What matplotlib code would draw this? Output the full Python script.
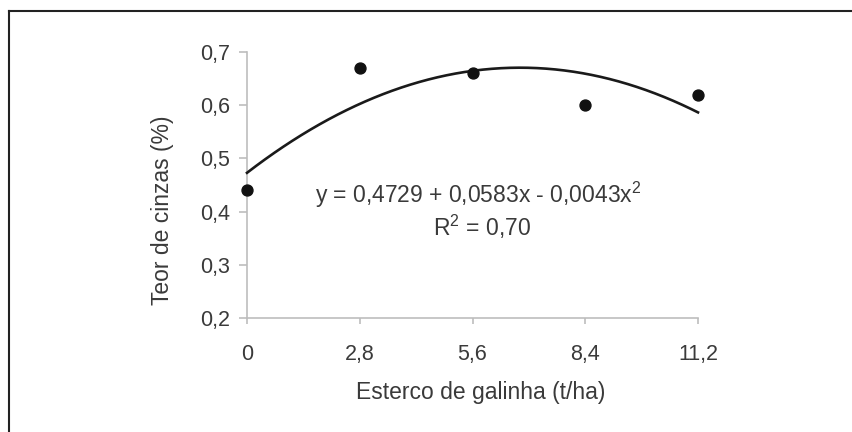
import numpy as np
import matplotlib
matplotlib.use("Agg")
from matplotlib import pyplot as plt
from matplotlib.lines import Line2D

plt.rcParams['font.family'] = ['Liberation Sans', 'DejaVu Sans']
plt.rcParams['mathtext.fontset'] = 'custom'
plt.rcParams['mathtext.rm'] = 'Liberation Sans'
plt.rcParams['mathtext.it'] = 'Liberation Sans'
plt.rcParams['mathtext.default'] = 'regular'

# dados
esterco = [0, 2.8, 5.6, 8.4, 11.2]
cinzas = [0.44, 0.67, 0.66, 0.60, 0.62]
coef = [0.4729, 0.0583, -0.0043]  # y = a + b x + c x^2
x_ticks = [0, 2.8, 5.6, 8.4, 11.2]
x_labels = ['0', '2,8', '5,6', '8,4', '11,2']
y_ticks = [0.2, 0.3, 0.4, 0.5, 0.6, 0.7]
y_labels = ['0,2', '0,3', '0,4', '0,5', '0,6', '0,7']

cor_texto = '#3a3a3a'
cor_eixo = '#bdbdbd'
W, H = 852, 432

fig = plt.figure(figsize=(W/100, H/100), dpi=100)
ax = fig.add_axes([247/W, 114/H, 451/W, 266/H])

xs = np.linspace(0, 11.2, 200)
ys = coef[0] + coef[1]*xs + coef[2]*xs**2
ax.plot(xs, ys, color='#1a1a1a', lw=1.9, clip_on=False, zorder=3)
ax.scatter(esterco, cinzas, s=62, color='#111111', clip_on=False, zorder=4)

ax.set_xlim(0, 11.2)
ax.set_ylim(0.2, 0.7)
ax.set_xticks(x_ticks)
ax.set_xticklabels(x_labels)
ax.set_yticks(y_ticks)
ax.set_yticklabels(y_labels)

for s in ['top', 'right']:
    ax.spines[s].set_visible(False)
for s in ['left', 'bottom']:
    ax.spines[s].set_color(cor_eixo)
    ax.spines[s].set_linewidth(1.2)
ax.tick_params(colors=cor_eixo, labelcolor=cor_texto, labelsize=15.5,
               width=1.2, direction='out')
ax.tick_params(axis='x', length=4.5, pad=14)
ax.tick_params(axis='y', length=6, pad=6)

fig.text(481/W, 1 - 392/H, 'Esterco de galinha (t/ha)', fontsize=16.5,
         color=cor_texto, ha='center', va='center')
fig.text(163/W, 1 - 210/H, 'Teor de cinzas (%)', fontsize=16.5, rotation=90,
         color=cor_texto, ha='center', va='center')

ax.text(5.74, 0.416, 'y = 0,4729 + 0,0583x - 0,0043x$^2$', fontsize=16.5,
        color=cor_texto, ha='center', va='baseline')
ax.text(5.84, 0.354, 'R$^2$ = 0,70', fontsize=16.5, color=cor_texto,
        ha='center', va='baseline')

# moldura (apenas topo e esquerda visíveis)
fig.add_artist(Line2D([9/W, 1.0], [1 - 11/H, 1 - 11/H], color='#222222', lw=1.5))
fig.add_artist(Line2D([9/W, 9/W], [0, 1 - 11/H], color='#222222', lw=1.5))

fig.savefig('out.png', dpi=100)
